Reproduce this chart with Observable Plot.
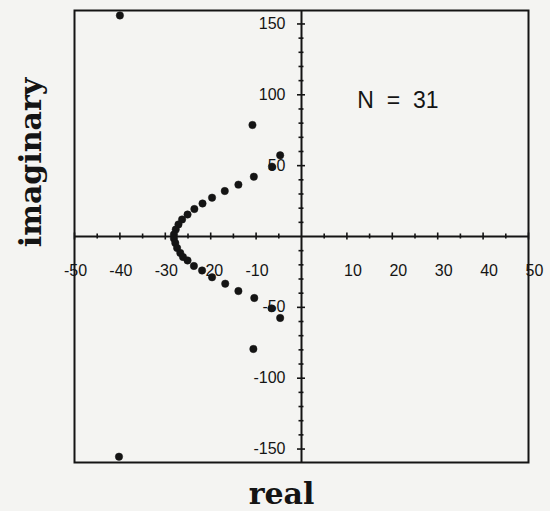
<!DOCTYPE html>
<html>
<head>
<meta charset="utf-8">
<script src="https://cdn.jsdelivr.net/npm/d3@7"></script>
<script src="https://cdn.jsdelivr.net/npm/@observablehq/plot@0.6"></script>
<style>
  html, body { margin: 0; padding: 0; background: #f4f4f2; }
  #chart { width: 550px; height: 511px; }
</style>
</head>
<body>
<div id="chart"></div>
<script>
// Root locations (real part, imaginary part)
const realPart = [-40, -10.8, -4.7, -6.5, -10.5, -13.9, -16.9, -19.7, -21.8, -23.6, -25.1, -26.3, -27.1, -27.7, -28.1,
                  -28.1, -27.8, -27.4, -26.7, -26.1, -25.1, -23.7, -21.9, -19.7, -16.8, -13.9, -10.4, -6.6, -4.7, -10.6, -40.2];
const imagPart = [156, 78.7, 57.3, 49.3, 42.2, 36.6, 32.1, 27.4, 23.3, 19.4, 15.5, 12.0, 8.5, 4.9, 1.4,
                  -1.4, -4.6, -8.1, -11.6, -14.5, -16.9, -20.8, -24.0, -28.8, -33.3, -38.5, -43.4, -50.7, -57.5, -79.4, -155.4];

const xTickLabels = [-50, -40, -30, -20, -10, 10, 20, 30, 40, 50];
const yTickLabels = [-150, -100, -50, 50, 100, 150];
const xMajorTicks = [-50, -40, -30, -20, -10, 10, 20, 30, 40, 50];
const xMinorTicks = [-45, -35, -25, -15, -5, 5, 15, 25, 35, 45];
const yMajorTicks = [-150, -100, -50, 50, 100, 150];
const yMinorTicks = [-140, -130, -120, -110, -90, -80, -70, -60, -40, -30, -20, -10,
                     10, 20, 30, 40, 60, 70, 80, 90, 110, 120, 130, 140];
const annotation = "N\u00a0\u00a0=\u00a0\u00a031";
const xTitle = "real";
const yTitle = "imaginary";

const points = realPart.map((re, i) => ({re, im: imagPart[i]}));
const ink = "#141414";
const tickFont = "Liberation Sans, Arial, sans-serif";

const chart = Plot.plot({
  width: 550,
  height: 511,
  marginLeft: 74,
  marginRight: 22,
  marginTop: 10,
  marginBottom: 49,
  x: {domain: [-50, 50], axis: null},
  y: {domain: [-159.5, 159.5], axis: null},
  style: {background: "transparent", fontFamily: tickFont, overflow: "visible"},
  marks: [
    Plot.frame({stroke: ink, strokeWidth: 2}),
    Plot.ruleX([0], {stroke: ink, strokeWidth: 2}),
    Plot.ruleY([0], {stroke: ink, strokeWidth: 2}),
    // x-axis ticks crossing the axis
    Plot.ruleX(xMajorTicks, {x: d => d, y1: 0, y2: 0, insetTop: -3.5, insetBottom: -3.5, stroke: ink, strokeWidth: 1.6}),
    Plot.ruleX(xMinorTicks, {x: d => d, y1: 0, y2: 0, insetTop: -2.5, insetBottom: -2.5, stroke: ink, strokeWidth: 1.6}),
    // y-axis ticks crossing the axis
    Plot.ruleY(yMajorTicks, {y: d => d, x1: 0, x2: 0, insetLeft: -4, insetRight: -4, stroke: ink, strokeWidth: 1.6}),
    Plot.ruleY(yMinorTicks, {y: d => d, x1: 0, x2: 0, insetLeft: -2.5, insetRight: -2.5, stroke: ink, strokeWidth: 1.6}),
    // tick labels
    Plot.text(xTickLabels.filter(d => d < 0), {x: d => d, y: 0, text: d => String(d), dy: 34, dx: 1,
      fontSize: 16, fill: ink}),
    Plot.text(xTickLabels.filter(d => d > 0), {x: d => d, y: 0, text: d => String(d), dy: 34, dx: 6,
      fontSize: 16, fill: ink}),
    Plot.text(yTickLabels, {x: 0, y: d => d, text: d => String(d), textAnchor: "end", dx: -16,
      fontSize: 16, fill: ink}),
    // annotation
    Plot.text([annotation], {x: 12.3, y: 96, text: d => d, textAnchor: "start", fontSize: 23,
      fill: ink, style: "letter-spacing:1px"}),
    // roots
    Plot.dot(points, {x: "re", y: "im", r: 3.7, fill: ink, stroke: ink, strokeWidth: 0.5}),
    // axis titles
    Plot.text([xTitle], {frameAnchor: "bottom", text: d => d, textAnchor: "middle", dx: -20, dy: 41, lineAnchor: "bottom",
      fontSize: 30, fontWeight: "bold", fontFamily: "DejaVu Serif, serif", fill: ink}),
    Plot.text([yTitle], {frameAnchor: "left", text: d => d, textAnchor: "middle", rotate: -90, dx: -34, dy: -74, lineAnchor: "bottom",
      fontSize: 30, fontWeight: "bold", fontFamily: "DejaVu Serif, serif", fill: ink})
  ]
});

document.getElementById("chart").appendChild(chart);
</script>
</body>
</html>
